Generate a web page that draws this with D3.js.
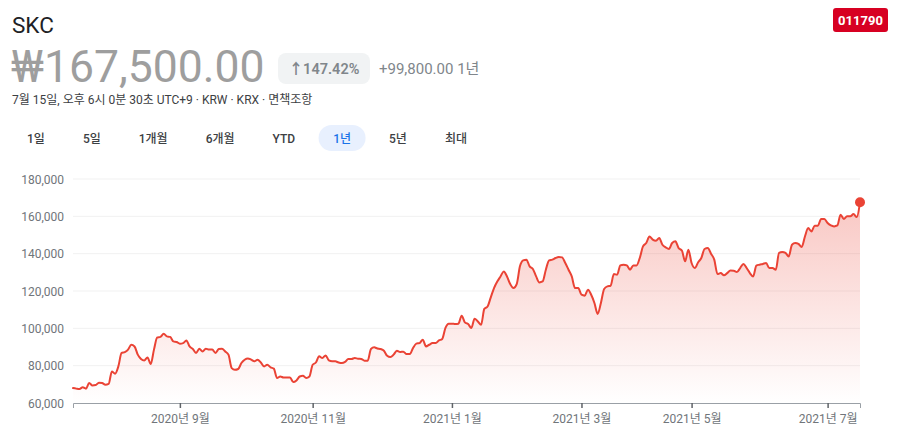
<!DOCTYPE html>
<html>
<head>
<meta charset="utf-8">
<script src="https://cdn.jsdelivr.net/npm/d3@7"></script>
<style>
  body { margin: 0; background: #fff; }
  svg { display: block; font-family: Roboto, "Noto Sans CJK KR", sans-serif; }
</style>
</head>
<body>
<div id="chart"></div>
<script>
// SKC (011790) one-year closes, in won (oldest first)
const closes = [
  68000, 67700, 67500, 68400, 67700, 70700, 69400, 69600, 70900, 70700,
  69800, 70200, 76900, 75700, 79600, 86800, 87300, 88600, 91200, 90300,
  85900, 83600, 82800, 84400, 80900, 88600, 95100, 95400, 97100, 95700,
  95400, 93000, 92700, 91800, 92100, 93500, 90300, 88900, 86800, 89100,
  87600, 89100, 88600, 88600, 86800, 88900, 89100, 87600, 85900, 78700,
  77800, 78200, 81400, 83200, 83900, 83200, 82300, 83200, 81700, 79600, 80500,
  79100, 78400, 73400, 74200, 73700, 73700, 73700, 71200, 72100, 74200,
  74600, 73400, 74200, 80500, 81700, 85000, 84100, 85500, 82800, 82300,
  82300, 81700, 81400, 82000, 83600, 83600, 84100, 83700, 83600, 82700,
  82700, 88900, 89800, 89200, 88900, 88000, 85300, 84600, 85900, 88000,
  87300, 87500, 86200, 86200, 89500, 91800, 92100, 93900, 90300, 91200,
  92100, 92100, 93500, 94300, 100200, 102500, 102500, 102300, 102500, 106800, 103200,
  102300, 100200, 105200, 103700, 101900, 110400, 111700, 116600, 121600, 125100,
  127800, 130500, 127800, 123700, 121600, 123700, 133200, 136400, 136800, 133200,
  131800, 127800, 124600, 125100, 131400, 136400, 136800, 137700, 138200, 138000,
  135000, 131400, 127800, 121600,
  121600, 118000, 117500, 120700, 118000, 113600, 107700, 113600, 121100, 122500,
  122800, 129100, 128700, 133700, 134100, 133700, 131400, 133700, 133700, 137700,
  143900, 145700, 149200, 147500, 146900, 148400, 144800, 143400, 142500, 145700, 146600,
  143000, 141700, 135900, 142100, 135000, 132300, 135300, 137700, 142500, 143000,
  140000, 136800, 129100, 129600, 128400, 129600, 131000, 130900, 130200, 132300,
  134500, 132300, 129600, 127800, 133600, 134100, 134500, 135000, 132300,
  132300, 131400, 140400, 140900, 140400, 138500, 144800, 145700, 145200, 143600,
  149200, 153700, 151900, 155000, 155000, 158600, 158600, 156400, 155100, 154600,
  155100, 160900, 158600, 160000, 160000, 161200, 159600, 167500
];

// month ticks, as trading-day index into closes
const monthTickIdx = [33, 74, 117, 157, 191, 233];
const monthTickLabels = ["2020년 9월", "2020년 11월", "2021년 1월", "2021년 3월", "2021년 5월", "2021년 7월"];
const priceTicks = [60000, 80000, 100000, 120000, 140000, 160000, 180000];

const rangeTabs = ["1일", "5일", "1개월", "6개월", "YTD", "1년", "5년", "최대"];
const selectedTab = "1년";

const width = 897, height = 444;
const marginLeft = 73, marginRight = 37, marginTop = 179, marginBottom = 41;

const svg = d3.select("#chart").append("svg")
    .attr("width", width)
    .attr("height", height)
    .attr("viewBox", [0, 0, width, height]);

// ---- header ----
svg.append("text")
    .attr("x", 12).attr("y", 32.5)
    .attr("font-size", 22.5).attr("fill", "#202124")
    .text("SKC");

svg.append("rect")
    .attr("x", 833).attr("y", 8).attr("width", 55).attr("height", 24)
    .attr("rx", 3).attr("fill", "#d70022");
svg.append("text")
    .attr("x", 860.5).attr("y", 25)
    .attr("text-anchor", "middle")
    .attr("font-size", 13).attr("font-weight", 700).attr("fill", "#fff")
    .text("011790");

svg.append("text")
    .attr("x", 11).attr("y", 81.5)
    .attr("font-size", 44.5).attr("fill", "#9e9e9e")
    .text("₩167,500.00");

svg.append("rect")
    .attr("x", 278).attr("y", 53).attr("width", 92).attr("height", 31)
    .attr("rx", 8).attr("fill", "#f1f3f4");
svg.append("text")
    .attr("x", 324).attr("y", 73.5)
    .attr("text-anchor", "middle")
    .attr("font-size", 14.5).attr("font-weight", 600).attr("fill", "#80868b")
    .text("↑147.42%");

svg.append("text")
    .attr("x", 379).attr("y", 73.5)
    .attr("font-size", 15).attr("fill", "#80868b")
    .text("+99,800.00 1년");

svg.append("text")
    .attr("x", 12).attr("y", 104)
    .attr("font-size", 12).attr("fill", "#3c4043")
    .text("7월 15일, 오후 6시 0분 30초 UTC+9 · KRW · KRX · 면책조항");

// range tabs: laid out one after another, each with the same side padding
const tabPad = 19;
const tabsG = svg.append("g");
const pill = tabsG.append("rect")
    .attr("y", 125).attr("height", 26)
    .attr("rx", 13).attr("fill", "#e8f0fe");
let cursor = 27 - tabPad;
tabsG.selectAll("text")
  .data(rangeTabs)
  .join("text")
    .attr("y", 143)
    .attr("text-anchor", "middle")
    .attr("font-size", 12).attr("font-weight", 500)
    .attr("fill", d => d === selectedTab ? "#1a73e8" : "#3c4043")
    .text(d => d)
    .each(function(d) {
      const w = this.getComputedTextLength();
      const cx = cursor + tabPad + w / 2;
      d3.select(this).attr("x", cx);
      if (d === selectedTab) pill.attr("x", cx - 23.5).attr("width", 47);
      cursor += w + 2 * tabPad;
    });

// ---- chart ----
const x = d3.scaleLinear([0, closes.length - 1], [marginLeft, width - marginRight]);
const y = d3.scaleLinear([60000, 180000], [height - marginBottom, marginTop]);

// grid + y labels
svg.append("g")
  .selectAll("line")
  .data(priceTicks.slice(1))
  .join("line")
    .attr("x1", marginLeft).attr("x2", width - marginRight)
    .attr("y1", d => y(d)).attr("y2", d => y(d))
    .attr("stroke", "#f1f1f1");

svg.append("g")
  .selectAll("text")
  .data(priceTicks)
  .join("text")
    .attr("x", 64)
    .attr("y", d => y(d) + 4.5)
    .attr("text-anchor", "end")
    .attr("font-size", 12).attr("fill", "#70757a")
    .text(d => d3.format(",")(d));

// area gradient
const defs = svg.append("defs");
const grad = defs.append("linearGradient")
    .attr("id", "area-grad")
    .attr("gradientUnits", "userSpaceOnUse")
    .attr("x1", 0).attr("x2", 0)
    .attr("y1", y(180000)).attr("y2", y(60000));
grad.append("stop").attr("offset", 0).attr("stop-color", "#ea4335").attr("stop-opacity", 0.33);
grad.append("stop").attr("offset", 1).attr("stop-color", "#ea4335").attr("stop-opacity", 0);

const area = d3.area()
    .curve(d3.curveMonotoneX)
    .x((d, i) => x(i))
    .y0(y(60000))
    .y1(d => y(d));

const line = d3.line()
    .curve(d3.curveMonotoneX)
    .x((d, i) => x(i))
    .y(d => y(d));

svg.append("path")
    .attr("fill", "url(#area-grad)")
    .attr("d", area(closes));

// x axis
const xAxis = d3.axisBottom(x)
    .tickValues(monthTickIdx)
    .tickFormat((d, i) => monthTickLabels[i])
    .tickSizeOuter(0)
    .tickSize(5)
    .tickPadding(6);

svg.append("g")
    .attr("transform", `translate(0,${height - marginBottom})`)
    .call(xAxis)
    .call(g => g.select(".domain").attr("stroke", "#9aa0a6"))
    .call(g => g.selectAll(".tick line").attr("stroke", "#5f6368").attr("stroke-width", 1.5))
    .call(g => g.selectAll(".tick text")
        .attr("font-size", 12)
        .attr("font-family", "Roboto, 'Noto Sans CJK KR', sans-serif")
        .attr("fill", "#70757a"));

svg.append("path")
    .attr("fill", "none")
    .attr("stroke", "#ea4335")
    .attr("stroke-width", 2)
    .attr("stroke-linejoin", "round")
    .attr("stroke-linecap", "round")
    .attr("d", line(closes));

svg.append("circle")
    .attr("cx", x(closes.length - 1))
    .attr("cy", y(closes[closes.length - 1]))
    .attr("r", 5)
    .attr("fill", "#ea4335");
</script>
</body>
</html>
